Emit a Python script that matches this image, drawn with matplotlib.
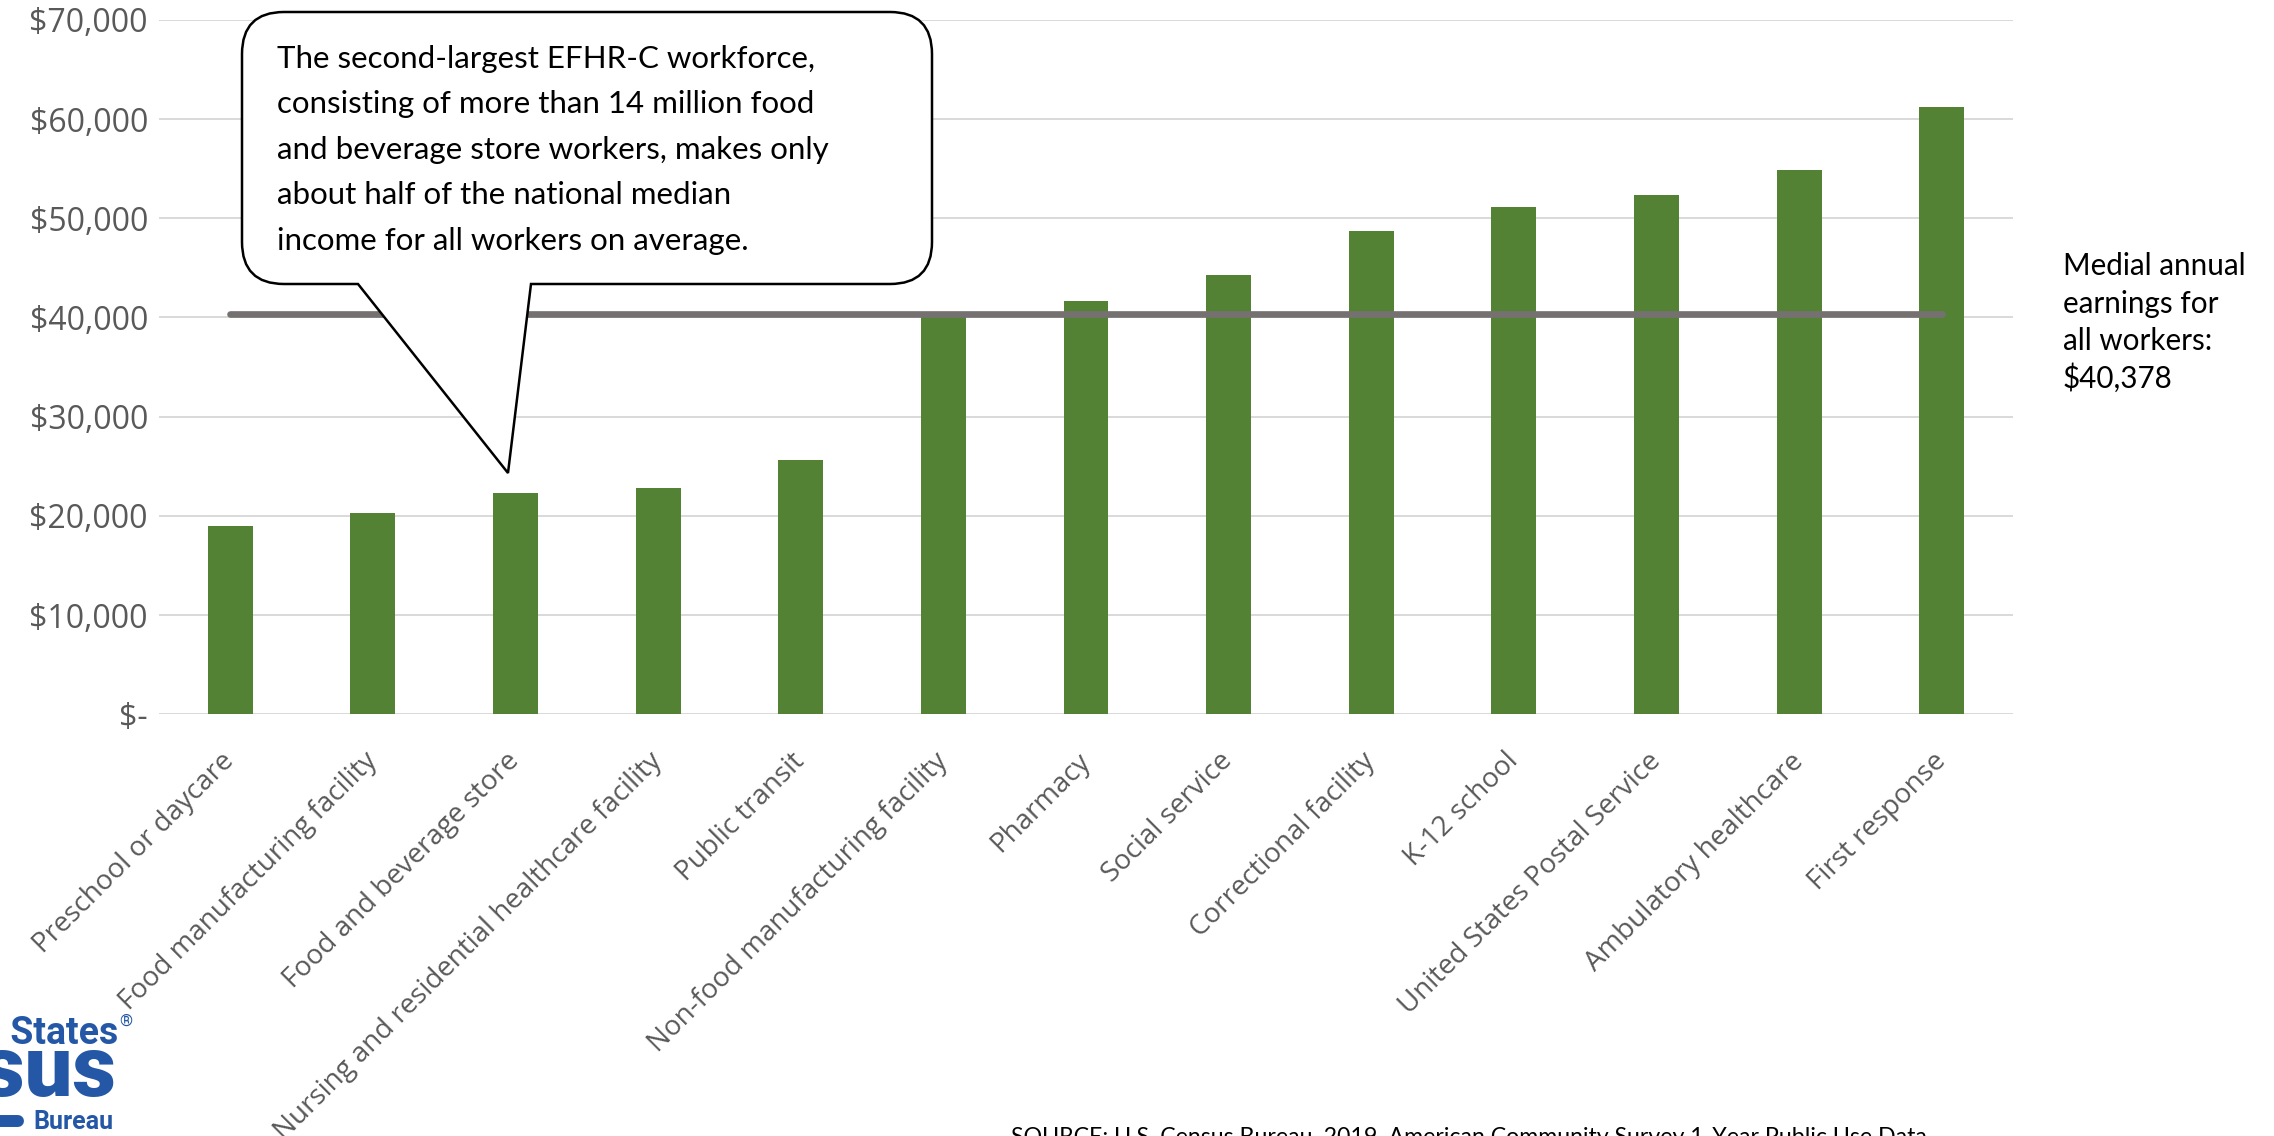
import matplotlib.pyplot as plt
from matplotlib.path import Path
from matplotlib.patches import PathPatch

W, H = 2274, 1136

categories = [
    "Preschool or daycare",
    "Food manufacturing facility",
    "Food and beverage store",
    "Nursing and residential healthcare facility",
    "Public transit",
    "Non-food manufacturing facility",
    "Pharmacy",
    "Social service",
    "Correctional facility",
    "K-12 school",
    "United States Postal Service",
    "Ambulatory healthcare",
    "First response",
]
earnings = [18940, 20250, 22330, 22830, 25590, 40300, 41640,
            44330, 48700, 51110, 52320, 54910, 61220]
median_all = 40378

y_ticks = [0, 10000, 20000, 30000, 40000, 50000, 60000, 70000]
y_labels = ["$-", "$10,000", "$20,000", "$30,000", "$40,000",
            "$50,000", "$60,000", "$70,000"]

callout_lines = [
    "The second-largest EFHR-C workforce,",
    "consisting of more than 14 million food",
    "and beverage store workers, makes only",
    "about half of the national median",
    "income for all workers on average.",
]
median_note = ["Medial annual", "earnings for", "all workers:", "$40,378"]
source = "SOURCE: U.S. Census Bureau, 2019, American Community Survey 1-Year Public Use Data"

GREEN = "#548235"
GRID = "#d9d9d9"
TICK = "#595959"
LINE = "#767171"
BLUE = "#2458a6"


def px(x, y):
    # pixel position (top-left origin) -> figure fraction
    return x / W, 1 - y / H


fig = plt.figure(figsize=(W / 100, H / 100), dpi=100)
ax = fig.add_axes([159 / W, 1 - 714.3 / H, (2013 - 159) / W, (714.3 - 19.9) / H])

x = list(range(len(categories)))
ax.bar(x, earnings, width=0.315, color=GREEN, zorder=2)
ax.plot([x[0], x[-1]], [median_all, median_all], color=LINE, lw=4.8,
        solid_capstyle="round", zorder=3)

ax.set_xlim(-0.5, len(categories) - 0.5)
ax.set_ylim(0, 70000)
ax.set_yticks(y_ticks)
ax.set_yticklabels(y_labels, fontsize=23, color=TICK, family="Open Sans")
ax.set_xticks(x)
ax.set_xticklabels(categories, fontsize=20, color=TICK, family="Open Sans",
                   rotation=45, ha="right", va="center", rotation_mode="anchor")
ax.tick_params(axis="x", length=0, pad=31)
ax.tick_params(axis="y", length=0, pad=8)
ax.yaxis.grid(True, color=GRID, lw=1.4, zorder=0)
ax.set_axisbelow(True)
for s in ax.spines.values():
    s.set_visible(False)

# speech bubble pointing at the food and beverage store bar
L, R, T, B, r = 242, 932, 12, 284, 42
pts = [
    ((L + r, T), Path.MOVETO),
    ((R - r, T), Path.LINETO),
    ((R, T), Path.CURVE3), ((R, T + r), Path.CURVE3),
    ((R, B - r), Path.LINETO),
    ((R, B), Path.CURVE3), ((R - r, B), Path.CURVE3),
    ((531, B), Path.LINETO),
    ((508, 473), Path.LINETO),
    ((358, B), Path.LINETO),
    ((L + r, B), Path.LINETO),
    ((L, B), Path.CURVE3), ((L, B - r), Path.CURVE3),
    ((L, T + r), Path.LINETO),
    ((L, T), Path.CURVE3), ((L + r, T), Path.CURVE3),
    ((L + r, T), Path.CLOSEPOLY),
]
bubble = Path([px(*p) for p, _ in pts], [c for _, c in pts])
fig.add_artist(PathPatch(bubble, facecolor="white", edgecolor="black",
                         lw=1.8, transform=fig.transFigure, zorder=4))

for i, line in enumerate(callout_lines):
    fig.text(*px(277, 68 + i * 45.5), line, fontsize=22.5, family="Lato",
             va="baseline", ha="left", color="black", zorder=5)

for i, line in enumerate(median_note):
    fig.text(*px(2063, 275 + i * 37.7), line, fontsize=21.3, family="Lato",
             va="baseline", ha="left", color="black")

fig.text(*px(1011, 1127), source, fontsize=16.7, family="Lato",
         va="top", ha="left", color="black")

# Census Bureau logo, cropped at the page edge
fig.text(*px(118, 1044), "United States", fontsize=27, family="Roboto",
         weight="bold", color=BLUE, ha="right", va="baseline")
fig.text(*px(119, 1026), "®", fontsize=12, family="Roboto",
         color=BLUE, ha="left", va="baseline")
fig.text(*px(117, 1096), "census", fontsize=61, family="Roboto",
         weight="black", color=BLUE, ha="right", va="baseline")
fig.text(*px(33, 1129), "Bureau", fontsize=18, family="Roboto",
         weight="bold", color=BLUE, ha="left", va="baseline")
fig.add_artist(plt.Line2D([px(-10, 0)[0], px(18, 0)[0]],
                          [px(0, 1121)[1]] * 2, color=BLUE, lw=8.6,
                          solid_capstyle="round", transform=fig.transFigure))

fig.savefig("out.png", dpi=100, facecolor="white")
